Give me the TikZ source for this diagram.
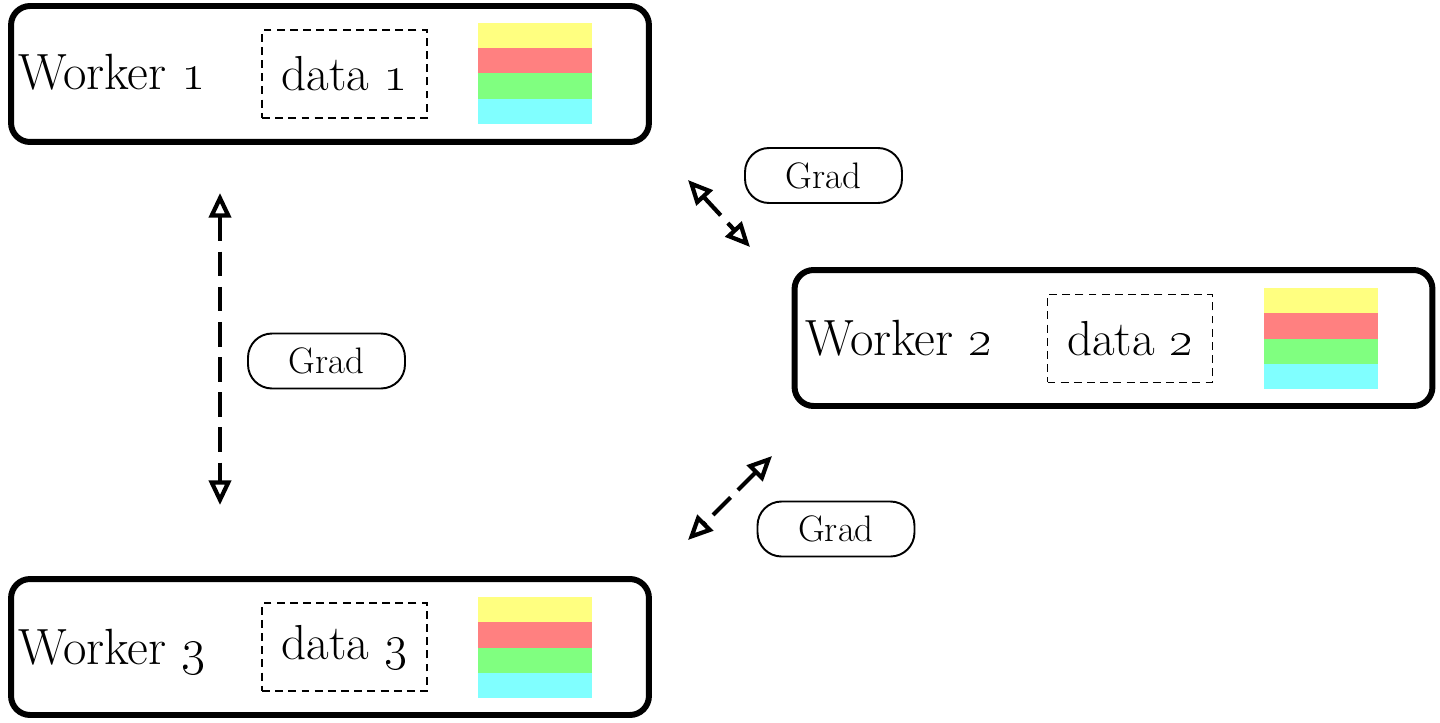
\RequirePackage{fix-cm}
\documentclass[tikz,border=0pt]{standalone}
\usepackage{amsmath}
\usepackage{tikz}
\usetikzlibrary{arrows.meta}

\definecolor{barYellow}{RGB}{255,255,128}
\definecolor{barRed}{RGB}{255,128,128}
\definecolor{barGreen}{RGB}{128,255,128}
\definecolor{barCyan}{RGB}{128,255,255}

\begin{document}
\begin{tikzpicture}[x = 0.02cm, y = -0.02cm,
    worker/.style = {draw, line width = 3.4pt, rounded corners = 0.38cm,
        minimum width = 12.76cm, minimum height = 2.72cm},
    workerlabel/.style = {inner sep = 0pt, anchor = base west,
        font = \fontsize{29}{34}\selectfont},
    databox/.style = {draw, line width = 0.9pt, dash pattern = on 4.5pt off 3pt,
        minimum width = 3.3cm, minimum height = 1.76cm,
        font = \fontsize{28}{33}\selectfont},
    grad/.style = {draw, line width = 1.1pt, rounded corners = 0.48cm,
        minimum width = 3.14cm, minimum height = 1.1cm,
        font = \fontsize{21}{25}\selectfont},
    sync/.style = {line width = 2.4pt, dash pattern = on 14pt off 6pt,
        {Triangle[open, length = 14pt, width = 12.5pt]}-{Triangle[open, length = 14pt, width = 12.5pt]}}]

        \useasboundingbox (0,0) rectangle (1440,723);

        % workers
        \node[worker] (w1) at (330, 74) {};
        \node[worker] (w2) at (1113.5, 338) {};
        \node[worker] (w3) at (330, 647) {};

        \node[workerlabel] (w1label) at (18, 90) {Worker \oldstylenums{1}};
        \node[workerlabel] (w2label) at (805, 355) {Worker \oldstylenums{2}};
        \node[workerlabel] (w3label) at (18, 664) {Worker \oldstylenums{3}};

        \node[databox] (d1) at (344.5, 74) {data \oldstylenums{1}};
        \node[databox] (d2) at (1130, 338.5) {data \oldstylenums{2}};
        \node[databox] (d3) at (344.5, 647) {data \oldstylenums{3}};

        % model layers
        \foreach \bx/\by in {478/23, 1264/288, 478/597}
            \foreach \c [count = \i] in {barYellow, barRed, barGreen, barCyan}
                \fill[\c] (\bx, {\by + (\i-1)*25.25}) rectangle ++(114, 25.25);

        % gradients
        \node[grad] (g12) at (823.5, 175.5) {Grad};
        \node[grad] (g13) at (326.5, 361) {Grad};
        \node[grad] (g23) at (836, 529) {Grad};

        \coordinate (a13top) at (220, 193);
        \coordinate (a13bot) at (220, 505);
        \coordinate (a12w) at (688, 180);
        \coordinate (a12e) at (750, 247);
        \coordinate (a23e) at (772, 456);
        \coordinate (a23w) at (688, 540);

        \draw[sync] (a13top) -- (a13bot);
        \draw[sync] (a12w) -- (a12e);
        \draw[sync] (a23e) -- (a23w);
    \end{tikzpicture}
\end{document}
